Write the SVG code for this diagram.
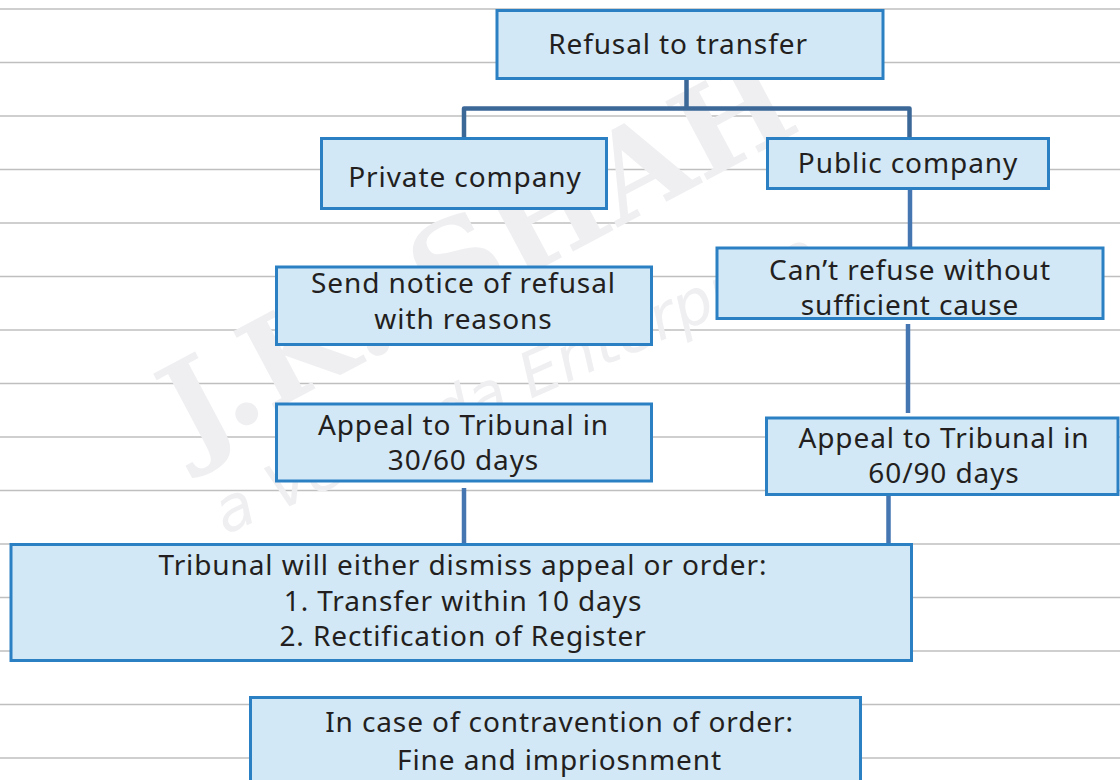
<svg xmlns="http://www.w3.org/2000/svg" width="1120" height="780" viewBox="0 0 1120 780">
  <defs>
    <style>
      .rule { stroke: #bfbfbf; stroke-width: 1.6; }
      .box { fill: #d2e8f6; stroke: #2b80c4; stroke-width: 3; }
      .lbl { font-family: "Noto Sans", "Open Sans", sans-serif; font-size: 28px; letter-spacing: 0.9px; fill: #231f20; text-anchor: middle; }
      .wire-top { fill: none; stroke: #3c6898; stroke-width: 4.5; stroke-linejoin: round; }
      .wire { fill: none; stroke: #4676b2; stroke-width: 4.5; }
      .mark { font-family: "DejaVu Serif", serif; font-weight: bold; fill: #efeff2; }
      .mark-sub { font-family: "DejaVu Sans", sans-serif; font-style: italic; fill: #efeff2; }
    </style>
  </defs>

  <rect width="1120" height="780" fill="#ffffff"/>

  <!-- ruled notebook lines -->
  <g id="rules">
    <line class="rule" x1="0" y1="9" x2="1120" y2="9"/>
    <line class="rule" x1="0" y1="62.5" x2="1120" y2="62.5"/>
    <line class="rule" x1="0" y1="116" x2="1120" y2="116"/>
    <line class="rule" x1="0" y1="169.5" x2="1120" y2="169.5"/>
    <line class="rule" x1="0" y1="223" x2="1120" y2="223"/>
    <line class="rule" x1="0" y1="276.5" x2="1120" y2="276.5"/>
    <line class="rule" x1="0" y1="330" x2="1120" y2="330"/>
    <line class="rule" x1="0" y1="383.5" x2="1120" y2="383.5"/>
    <line class="rule" x1="0" y1="437" x2="1120" y2="437"/>
    <line class="rule" x1="0" y1="490.5" x2="1120" y2="490.5"/>
    <line class="rule" x1="0" y1="544" x2="1120" y2="544"/>
    <line class="rule" x1="0" y1="597.5" x2="1120" y2="597.5"/>
    <line class="rule" x1="0" y1="651" x2="1120" y2="651"/>
    <line class="rule" x1="0" y1="704.5" x2="1120" y2="704.5"/>
    <line class="rule" x1="0" y1="758" x2="1120" y2="758"/>
  </g>

  <!-- faint background watermark -->
  <g id="watermark">
    <text class="mark" x="0" y="0" font-size="122" transform="translate(190,455) rotate(-28)">J.K. SHAH</text>
    <text class="mark-sub" x="0" y="0" font-size="62" transform="translate(225,535) rotate(-24)">a Veranda Enterprise</text>
  </g>

  <!-- connectors -->
  <g id="connectors">
    <path class="wire-top" d="M686.5 79 V108.5 M464 138 V108.5 H909.5 V138"/>
    <line class="wire" x1="910" y1="189" x2="910" y2="248"/>
    <line class="wire" x1="908" y1="324" x2="908" y2="413"/>
    <line class="wire" x1="888.5" y1="495" x2="888.5" y2="544"/>
    <line class="wire" x1="464" y1="488" x2="464" y2="544"/>
  </g>

  <g id="refusal">
    <rect class="box" x="497" y="10.5" width="386" height="68"/>
    <text class="lbl" x="678" y="54">Refusal to transfer</text>
  </g>

  <g id="private">
    <rect class="box" x="321.5" y="138.5" width="285" height="70"/>
    <text class="lbl" x="465" y="187">Private company</text>
  </g>

  <g id="public">
    <rect class="box" x="767.5" y="138.5" width="281" height="50"/>
    <text class="lbl" x="908" y="173">Public company</text>
  </g>

  <g id="send-notice">
    <rect class="box" x="276.5" y="267" width="375" height="77.5"/>
    <text class="lbl" x="463.5" y="292.5">Send notice of refusal</text>
    <text class="lbl" x="463.5" y="328.5">with reasons</text>
  </g>

  <g id="cant-refuse">
    <rect class="box" x="717" y="248" width="386" height="70.5"/>
    <text class="lbl" x="910" y="280">Can’t refuse without</text>
    <text class="lbl" x="910" y="314.5">sufficient cause</text>
  </g>

  <g id="appeal-private">
    <rect class="box" x="276.5" y="404" width="375" height="77"/>
    <text class="lbl" x="463.5" y="434.5">Appeal to Tribunal in</text>
    <text class="lbl" x="463.5" y="470">30/60 days</text>
  </g>

  <g id="appeal-public">
    <rect class="box" x="766.5" y="418" width="351.5" height="76.5"/>
    <text class="lbl" x="944" y="447.5">Appeal to Tribunal in</text>
    <text class="lbl" x="944" y="483">60/90 days</text>
  </g>

  <g id="tribunal-order">
    <rect class="box" x="11" y="544.5" width="900.5" height="116"/>
    <text class="lbl" x="463" y="575">Tribunal will either dismiss appeal or order:</text>
    <text class="lbl" x="463" y="610.5">1. Transfer within 10 days</text>
    <text class="lbl" x="463" y="645.5">2. Rectification of Register</text>
  </g>

  <g id="contravention">
    <rect class="box" x="250.5" y="697.5" width="610" height="90"/>
    <text class="lbl" x="559.5" y="731.5">In case of contravention of order:</text>
    <text class="lbl" x="559.5" y="769.5">Fine and impriosnment</text>
  </g>
</svg>
